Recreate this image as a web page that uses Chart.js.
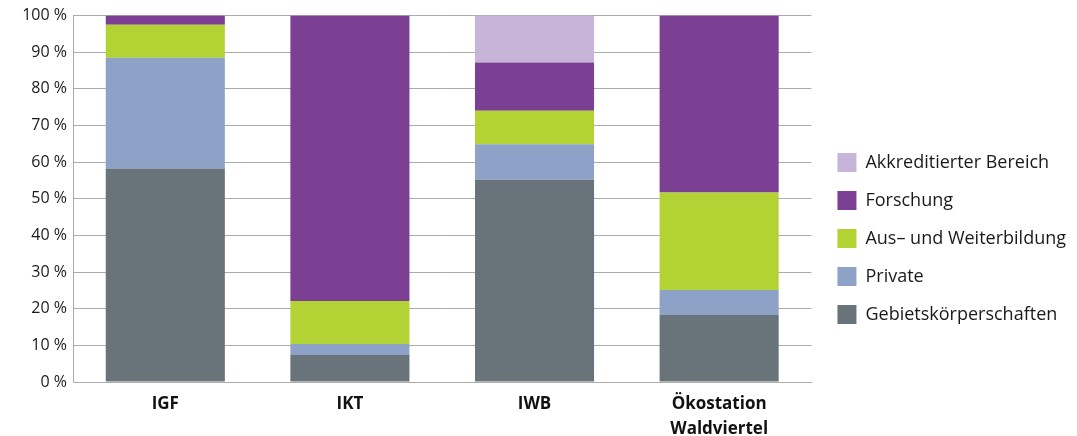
<!DOCTYPE html>
<html>
<head>
<meta charset="utf-8">
<script src="https://cdn.jsdelivr.net/npm/chart.js@4"></script>
<style>
  html, body { margin: 0; padding: 0; background: #fff; }
  #wrap { width: 1077px; height: 436px; }
</style>
</head>
<body>
<div id="wrap"><canvas id="c"></canvas></div>
<script>
// Kategorien und Anteile (%)
const categories = ['IGF', 'IKT', 'IWB', ['Ökostation', 'Waldviertel']];
const gebietskoerperschaften = [58.3, 7.4, 55.2, 18.3];
const privat = [30.2, 3.0, 9.7, 6.8];
const ausWeiterbildung = [9.0, 11.7, 9.1, 26.6];
const forschung = [2.5, 77.9, 13.2, 48.3];
const akkreditiert = [0, 0, 12.8, 0];
const yTicks = [0, 10, 20, 30, 40, 50, 60, 70, 80, 90, 100];

const gridColor = '#ababab';
const font = 'Open Sans';

// etwas mehr Abstand zwischen Diagramm und Legende
const legendGap = {
  id: 'legendGap',
  beforeLayout(chart) {
    const lg = chart.legend;
    if (lg && !lg._gapPatched) {
      const fit = lg.fit.bind(lg);
      lg.fit = function () { fit(); this.width += 8; };
      lg._gapPatched = true;
    }
  },
  afterLayout(chart) {
    chart.legend.left += 7;
    chart.legend.right += 7;
  }
};

new Chart(document.getElementById('c'), {
  type: 'bar',
  data: {
    labels: categories,
    datasets: [
      { label: 'Gebietskörperschaften', data: gebietskoerperschaften, backgroundColor: '#68737a' },
      { label: 'Private', data: privat, backgroundColor: '#8ea2c8' },
      { label: 'Aus– und Weiterbildung', data: ausWeiterbildung, backgroundColor: '#b3d234' },
      { label: 'Forschung', data: forschung, backgroundColor: '#7b3f94' },
      { label: 'Akkreditierter Bereich', data: akkreditiert, backgroundColor: '#c6b5d8' }
    ]
  },
  plugins: [legendGap],
  options: {
    responsive: true,
    maintainAspectRatio: false,
    animation: false,
    layout: { padding: { top: 15, left: 0, right: 0, bottom: 0 } },
    datasets: { bar: { barPercentage: 0.645, categoryPercentage: 1, borderWidth: 0 } },
    plugins: {
      tooltip: { enabled: false },
      legend: {
        position: 'right',
        reverse: true,
        title: { display: true, text: ' ', font: { family: font, size: 16 }, padding: { top: 4, bottom: 3 } },
        labels: {
          boxWidth: 19,
          boxHeight: 19,
          padding: 19,
          color: '#1a1a1a',
          font: { family: font, size: 18 }
        }
      }
    },
    scales: {
      x: {
        stacked: true,
        grid: {
          drawTicks: false,
          color: ctx => (ctx.index === 0 || ctx.index === categories.length) ? gridColor : 'rgba(0,0,0,0)'
        },
        border: { color: gridColor },
        ticks: {
          color: '#111',
          padding: 10,
          font: { family: font, size: 17, weight: 'bold', lineHeight: 1.45 }
        },
        afterFit: s => { s.height = 54; }
      },
      y: {
        stacked: true,
        min: 0,
        max: 100,
        afterBuildTicks: s => { s.ticks = yTicks.map(v => ({ value: v })); },
        grid: { drawTicks: false, color: gridColor },
        border: { color: gridColor },
        ticks: {
          color: '#1a1a1a',
          padding: 6,
          font: { family: font, size: 16 },
          callback: v => v + ' %'
        },
        afterFit: s => { s.width = 73; }
      }
    }
  }
});
</script>
</body>
</html>
